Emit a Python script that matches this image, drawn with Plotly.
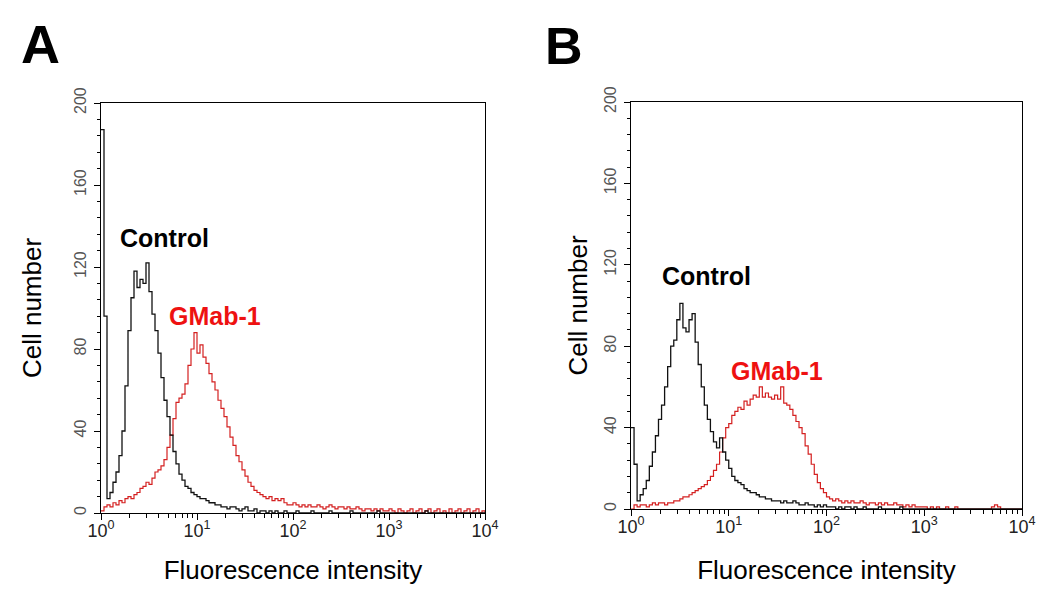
import numpy as np
import plotly.graph_objects as go

# ---------------- data (counts per log channel, 32 channels per decade, 10^0 .. 10^4) -------------
CHANNELS_PER_DECADE = 32
channel_index = np.arange(129)
fluorescence = 10 ** (channel_index / CHANNELS_PER_DECADE)

control_a = [187, 96, 7, 10, 15, 20, 28, 40, 62, 89, 105, 118, 110, 114, 112, 122, 108, 97, 89, 78,
             66, 55, 47, 38, 30, 24, 19, 16, 13, 12, 10, 9, 8, 7, 7, 6, 5, 5, 4, 4,
             3, 3, 2, 3, 3, 2, 1, 2, 3, 1, 1, 2, 0, 1, 1, 0, 1, 0, 1, 0,
             0, 1, 0, 0, 0, 1, 0, 0, 0, 0, 1, 0, 0, 0, 0, 0, 1, 0, 0, 0,
             0, 0, 0, 1, 0, 0, 0, 0, 0, 0, 0, 0, 1, 0, 0, 0, 0, 0, 0, 0,
             0, 0, 0, 0, 0, 0, 0, 0, 1, 0, 0, 0, 0, 0, 0, 0, 0, 0, 0, 0,
             0, 0, 0, 0, 0, 0, 0, 0, 0]

gmab_a = [1, 3, 4, 3, 5, 4, 6, 5, 7, 8, 7, 9, 10, 12, 13, 15, 14, 17, 20, 21,
          23, 26, 32, 38, 46, 54, 56, 58, 63, 72, 80, 88, 78, 82, 76, 73, 68, 64, 60, 55,
          51, 47, 42, 37, 33, 28, 25, 21, 18, 15, 13, 11, 10, 9, 8, 7, 8, 6, 7, 6,
          7, 5, 4, 4, 5, 4, 3, 4, 3, 4, 3, 3, 4, 3, 2, 3, 4, 3, 2, 3,
          3, 2, 3, 2, 2, 3, 2, 1, 2, 2, 1, 2, 1, 2, 1, 1, 2, 1, 0, 2,
          1, 0, 1, 2, 0, 1, 2, 0, 1, 2, 0, 1, 2, 0, 1, 0, 2, 0, 1, 2,
          0, 1, 2, 0, 1, 2, 0, 1, 0]

control_b = [40, 22, 4, 7, 10, 14, 21, 28, 36, 44, 51, 60, 70, 80, 83, 93, 101, 89, 87, 93,
             96, 82, 71, 60, 51, 44, 38, 33, 30, 35, 28, 24, 20, 16, 14, 13, 12, 10, 9, 8,
             8, 7, 6, 6, 5, 5, 4, 4, 4, 3, 4, 3, 3, 4, 3, 2, 2, 3, 2, 2,
             1, 2, 1, 2, 1, 1, 1, 0, 1, 0, 1, 1, 0, 1, 0, 0, 1, 0, 0, 0,
             0, 1, 0, 0, 0, 0, 0, 0, 1, 0, 0, 0, 0, 0, 0, 0, 0, 0, 0, 0,
             0, 0, 0, 0, 0, 0, 0, 0, 0, 0, 0, 0, 0, 0, 0, 0, 0, 0, 0, 0,
             0, 0, 0, 0, 0, 0, 0, 0, 0]

gmab_b = [0, 2, 1, 2, 2, 1, 2, 3, 2, 3, 3, 2, 3, 3, 4, 4, 5, 6, 6, 7,
          8, 9, 10, 11, 12, 14, 16, 19, 22, 28, 35, 40, 42, 46, 48, 50, 49, 53, 51, 54,
          56, 55, 60, 55, 57, 55, 54, 56, 54, 60, 52, 51, 49, 46, 43, 40, 37, 31, 27, 22,
          17, 13, 10, 8, 6, 5, 4, 5, 4, 3, 4, 3, 4, 3, 3, 4, 3, 2, 3, 3,
          2, 3, 2, 3, 2, 2, 3, 2, 2, 1, 2, 1, 2, 1, 1, 1, 1, 0, 1, 0,
          1, 0, 0, 1, 0, 0, 1, 0, 0, 0, 0, 0, 0, 0, 0, 0, 0, 0, 1, 2,
          1, 0, 0, 0, 0, 0, 0, 0, 0]

x_tick_vals = [1, 10, 100, 1000, 10000]
x_tick_text = ["10<sup>0</sup>", "10<sup>1</sup>", "10<sup>2</sup>", "10<sup>3</sup>", "10<sup>4</sup>"]
x_minor_vals = [m * 10 ** d for d in range(4) for m in range(2, 10)]
y_tick_vals = [0, 40, 80, 120, 160, 200]

FONT = "Liberation Sans, Arial, Helvetica, sans-serif"
BLACK = "#111111"
RED = "#d42020"
TEXT_RED = "#ee1111"

fig = go.Figure()
for xa, ya, ctrl, gm in [("x", "y", control_a, gmab_a), ("x2", "y2", control_b, gmab_b)]:
    fig.add_trace(go.Scatter(x=fluorescence, y=gm, mode="lines", line=dict(color=RED, width=1.2, shape="hv"),
                             xaxis=xa, yaxis=ya, name="GMab-1"))
    fig.add_trace(go.Scatter(x=fluorescence, y=ctrl, mode="lines", line=dict(color=BLACK, width=1.3, shape="hv"),
                             xaxis=xa, yaxis=ya, name="Control"))


def xaxis_style(domain, anchor, standoff):
    return dict(type="log", range=[0, 4], domain=domain, anchor=anchor, automargin=False,
                showline=True, linecolor="black", linewidth=1, mirror=True,
                ticks="outside", ticklen=6, tickcolor="black", tickwidth=1,
                tickvals=x_tick_vals, ticktext=x_tick_text, ticklabelstandoff=-5,
                tickfont=dict(family=FONT, size=18, color="#222222"),
                minor=dict(tickvals=x_minor_vals, ticks="outside", ticklen=4, tickcolor="black", showgrid=False),
                showgrid=False, zeroline=False,
                title=dict(text="Fluorescence intensity", font=dict(family=FONT, size=26, color="black"), standoff=standoff))


def yaxis_style(domain, anchor, standoff):
    return dict(range=[0, 200], domain=domain, anchor=anchor, automargin=False,
                showline=True, linecolor="black", linewidth=1, mirror=True,
                ticks="outside", ticklen=6, tickcolor="black", tickwidth=1,
                tickvals=y_tick_vals, tickangle=-90, ticklabelstandoff=2,
                tickfont=dict(family=FONT, size=16, color="#555555"),
                minor=dict(dtick=8, ticks="outside", ticklen=3.5, tickcolor="black", showgrid=False),
                showgrid=False, zeroline=False,
                title=dict(text="Cell number", font=dict(family=FONT, size=26, color="black"), standoff=standoff))


fig.update_layout(
    width=1050, height=599,
    margin=dict(l=0, r=0, t=0, b=0, autoexpand=False),
    paper_bgcolor="white", plot_bgcolor="white",
    showlegend=False,
    font=dict(family=FONT),
    xaxis=xaxis_style([101 / 1050, 485 / 1050], "y", 21),
    yaxis=yaxis_style([86 / 599, 496 / 599], "x", 22),
    xaxis2=xaxis_style([631 / 1050, 1022 / 1050], "y2", 25),
    yaxis2=yaxis_style([90 / 599, 497 / 599], "x2", 6),
)

annotations = [
    ("<b>A</b>", 40, 44, 54, "black"),
    ("<b>B</b>", 564, 46, 52, "black"),
    ("<b>Control</b>", 164, 238, 25, "black"),
    ("<b>GMab-1</b>", 215, 316, 25, TEXT_RED),
    ("<b>Control</b>", 706, 276, 25, "black"),
    ("<b>GMab-1</b>", 777, 371, 25, TEXT_RED),
]
for text, px, py, size, color in annotations:
    fig.add_annotation(text=text, x=px / 1050, y=1 - py / 599, xref="paper", yref="paper",
                       xanchor="center", yanchor="middle", showarrow=False,
                       font=dict(family=FONT, size=size, color=color))

fig.write_html("out.html", config={"displayModeBar": False},
               post_script="document.body.style.margin='0';document.body.style.overflow='hidden';")
